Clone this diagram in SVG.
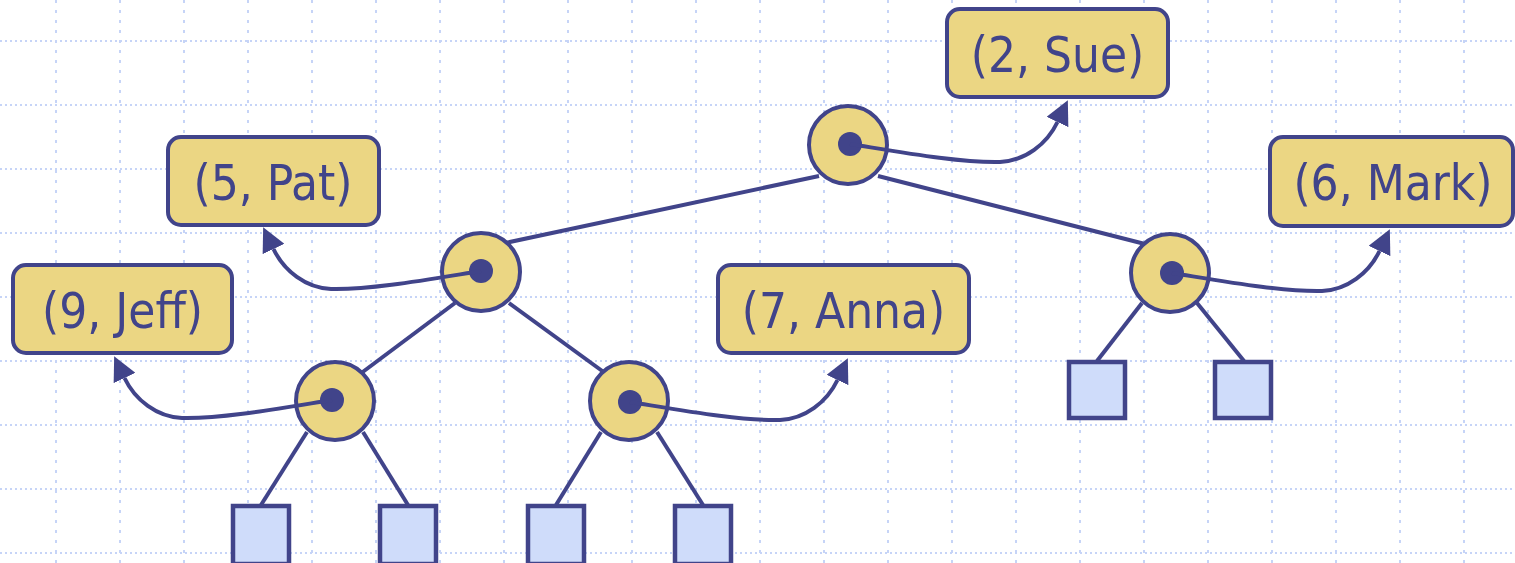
<svg xmlns="http://www.w3.org/2000/svg" width="1515" height="563" viewBox="0 0 1515 563">
  <style>
    .gh { stroke: #c6d4f7; stroke-width: 2; stroke-dasharray: 2 3; fill: none; }
    .gv { stroke: #c6d4f7; stroke-width: 2; stroke-dasharray: 3 7; fill: none; }
    .edge { stroke: #41448a; stroke-width: 4; fill: none; }
    .ptr { stroke: #41448a; stroke-width: 4; fill: none; marker-end: url(#arr); }
    .circ { fill: #ebd683; stroke: #41448a; stroke-width: 4; }
    .dot { fill: #41448a; }
    .box { fill: #ebd683; stroke: #41448a; stroke-width: 4; }
    .leaf { fill: #cfdcfa; stroke: #41448a; stroke-width: 4.5; }
    .lbl { fill: #41448a; font-family: "DejaVu Sans Condensed", "DejaVu Sans", sans-serif; font-size: 49px; text-anchor: middle; }
  </style>
  <defs>
    <marker id="arr" viewBox="0 0 24 24" markerUnits="userSpaceOnUse" markerWidth="24" markerHeight="24" refX="0" refY="12" orient="auto">
      <path d="M0,0 L24,12 L0,24 z" fill="#41448a"/>
    </marker>
  </defs>
  <rect width="1515" height="563" fill="#ffffff"/>
  <g id="grid">
    <path class="gh" d="M0,41H1515M0,105H1515M0,169H1515M0,233H1515M0,297H1515M0,361H1515M0,425H1515M0,489H1515M0,553H1515"/>
    <path class="gv" d="M56,0V563M120,0V563M184,0V563M248,0V563M312,0V563M376,0V563M440,0V563M504,0V563M568,0V563M632,0V563M696,0V563M760,0V563M824,0V563M888,0V563M952,0V563M1016,0V563M1080,0V563M1144,0V563M1208,0V563M1272,0V563M1336,0V563M1400,0V563M1464,0V563"/>
  </g>
  <g id="edges">
    <line class="edge" x1="819" y1="176" x2="505" y2="243"/>
    <line class="edge" x1="878" y1="176" x2="1145" y2="244"/>
    <line class="edge" x1="455" y1="303" x2="360" y2="374"/>
    <line class="edge" x1="509" y1="303" x2="605" y2="373"/>
    <line class="edge" x1="307" y1="432" x2="261" y2="505"/>
    <line class="edge" x1="363" y1="432" x2="408" y2="505"/>
    <line class="edge" x1="601" y1="432" x2="556" y2="505"/>
    <line class="edge" x1="657" y1="432" x2="703" y2="505"/>
    <line class="edge" x1="1142" y1="303" x2="1097" y2="361"/>
    <line class="edge" x1="1197" y1="303" x2="1244" y2="361"/>
  </g>
  <g id="node-root">
    <circle class="circ" cx="848" cy="145" r="39"/>
    <circle class="dot" cx="850" cy="144" r="12"/>
  </g>
  <g id="node-l">
    <circle class="circ" cx="481" cy="272" r="39"/>
    <circle class="dot" cx="481" cy="271" r="12"/>
  </g>
  <g id="node-r">
    <circle class="circ" cx="1170" cy="273" r="39"/>
    <circle class="dot" cx="1172" cy="273" r="12"/>
  </g>
  <g id="node-ll">
    <circle class="circ" cx="335" cy="401" r="39"/>
    <circle class="dot" cx="332" cy="400" r="12"/>
  </g>
  <g id="node-lr">
    <circle class="circ" cx="629" cy="401" r="39"/>
    <circle class="dot" cx="630" cy="402" r="12"/>
  </g>
  <g id="leaf-1"><rect class="leaf" x="233" y="506" width="56" height="58"/></g>
  <g id="leaf-2"><rect class="leaf" x="380" y="506" width="56" height="58"/></g>
  <g id="leaf-3"><rect class="leaf" x="528" y="506" width="56" height="58"/></g>
  <g id="leaf-4"><rect class="leaf" x="675" y="506" width="56" height="58"/></g>
  <g id="leaf-5"><rect class="leaf" x="1069" y="362" width="56" height="56"/></g>
  <g id="leaf-6"><rect class="leaf" x="1215" y="362" width="56" height="56"/></g>
  <g id="entry-sue">
    <rect class="box" x="947" y="9" width="221" height="88" rx="13"/>
    <text class="lbl" x="1057.5" y="72">(2, Sue)</text>
  </g>
  <g id="entry-pat">
    <rect class="box" x="168" y="137" width="211" height="88" rx="13"/>
    <text class="lbl" x="273" y="200">(5, Pat)</text>
  </g>
  <g id="entry-mark">
    <rect class="box" x="1270" y="137" width="243" height="89" rx="13"/>
    <text class="lbl" x="1393" y="200">(6, Mark)</text>
  </g>
  <g id="entry-jeff">
    <rect class="box" x="13" y="265" width="219" height="88" rx="13"/>
    <text class="lbl" x="122.5" y="328">(9, Jeff)</text>
  </g>
  <g id="entry-anna">
    <rect class="box" x="718" y="265" width="251" height="88" rx="13"/>
    <text class="lbl" x="843.5" y="328">(7, Anna)</text>
  </g>
  <g id="pointers">
    <path class="ptr" d="M850,144 c50,8 110,19 150,18 c25,-1 47,-18 57.5,-40"/>
    <path class="ptr" d="M1172,273 c50,8 110,19 150,18 c25,-1 47,-18 57.5,-40"/>
    <path class="ptr" d="M630,402 c50,8 110,19 150,18 c25,-1 47,-18 57.5,-40"/>
    <path class="ptr" d="M481,271 c-50,8 -110,19 -150,18 c-25,-1 -47,-18 -57.5,-40"/>
    <path class="ptr" d="M332,400 c-50,8 -110,19 -150,18 c-25,-1 -47,-18 -57.5,-40"/>
  </g>
</svg>
